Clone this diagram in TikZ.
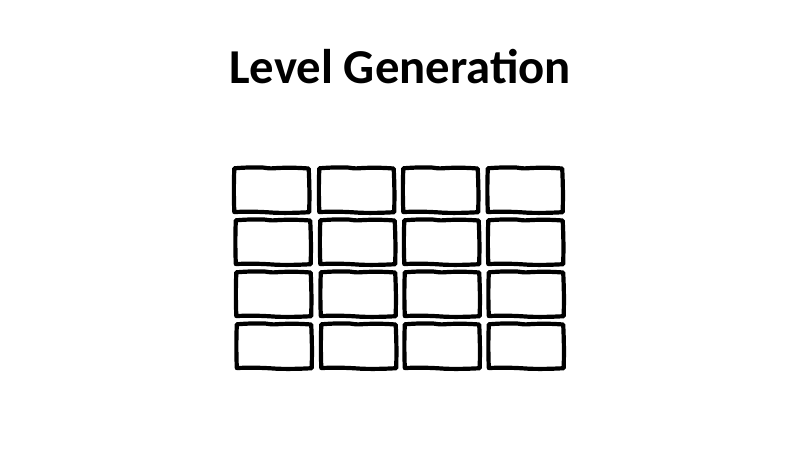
\documentclass[tikz,border=0pt]{standalone}
\usepackage{fontspec}
\setmainfont{Carlito}
\usetikzlibrary{calc}
\newcommand\handbox[1]{%
  \draw[handline] ($(#1.north west)+(0,0.5)$) to[bend left=3] ($(#1.north)+(-8,1.2)$)
     to[bend right=8] ($(#1.north)+(6,0.8)$) to[bend left=3] ($(#1.north east)+(0,0.3)$)
     to[bend left=2] ($(#1.south east)+(0.5,0)$)
     to[bend left=2] ($(#1.south)+(4,-0.6)$) to[bend right=3] ($(#1.south west)+(0,0.2)$)
     to[bend left=2] cycle;}
\begin{document}
\begin{tikzpicture}[x=1pt,y=1pt,
  brick/.style={draw=none, minimum width=74pt, minimum height=43pt, inner sep=0pt},
  handline/.style={draw=black, line width=4.2pt, line join=round, line cap=round},
  titletext/.style={font=\bfseries\fontsize{48.7}{55}\selectfont, inner sep=0pt}]
\useasboundingbox (0,0) rectangle (800,-450);
\fill[white] (0,0) rectangle (800,-450);
\node[titletext, anchor=base] (title) at (400,-83) {Level Generation};
% row 1
\node[brick] (b11) at (271.5,-190.5) {};
\node[brick] (b12) at (356.5,-190.5) {};
\node[brick] (b13) at (440.5,-190.5) {};
\node[brick] (b14) at (525,-190.5) {};
% row 2
\node[brick] (b21) at (273,-242.5) {};
\node[brick] (b22) at (357.5,-242.5) {};
\node[brick] (b23) at (441.5,-242.5) {};
\node[brick] (b24) at (525.5,-242.5) {};
% row 3
\node[brick] (b31) at (273.5,-294.5) {};
\node[brick] (b32) at (358,-294.5) {};
\node[brick] (b33) at (442,-294.5) {};
\node[brick] (b34) at (526,-294.5) {};
% row 4
\node[brick] (b41) at (274,-346.5) {};
\node[brick] (b42) at (358.5,-346.5) {};
\node[brick] (b43) at (442,-346.5) {};
\node[brick] (b44) at (526,-346.5) {};
\foreach \r in {1,2,3,4}{\foreach \c in {1,2,3,4}{\handbox{b\r\c}}}
\end{tikzpicture}
\end{document}
